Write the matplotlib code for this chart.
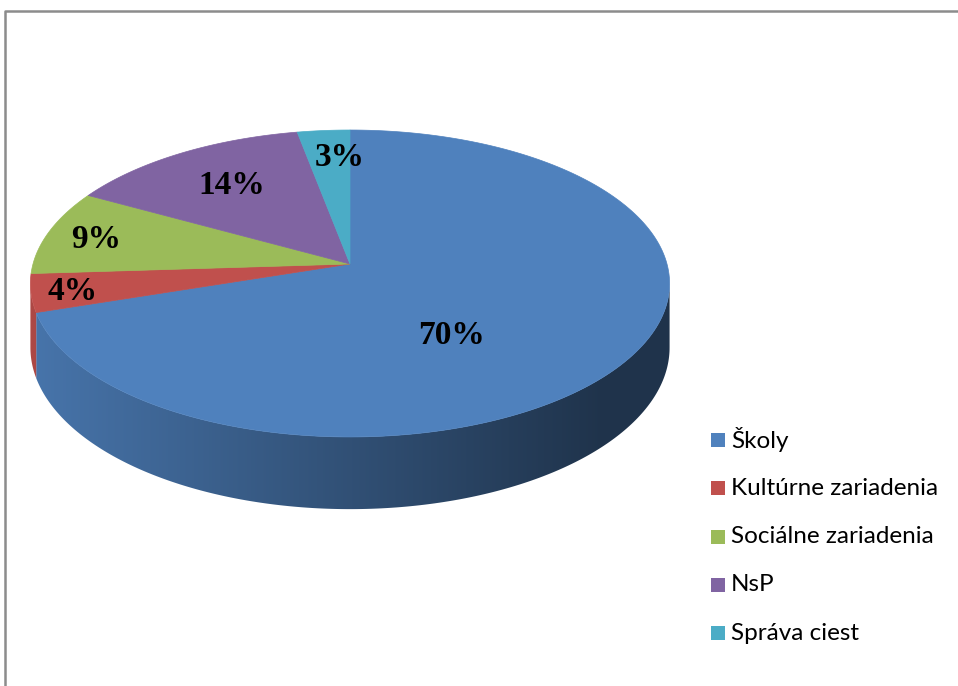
import matplotlib.pyplot as plt
import numpy as np
from matplotlib.colors import to_rgb
from matplotlib.patches import Polygon, Rectangle

# dados do grafico
categorias = ["Školy", "Kultúrne zariadenia", "Sociálne zariadenia", "NsP", "Správa ciest"]
valores = [70, 4, 9, 14, 3]
rotulos = ["70%", "4%", "9%", "14%", "3%"]
cores = ["#4f81bd", "#c0504d", "#9bbb59", "#8064a2", "#4bacc6"]

# geometria da "pizza 3D" (em pixels da figura)
CX, CY = 350, 264
A, B, K = 317, 151, 0.127
H = 63


def projetar(phi, fundo=False):
    """phi em graus, sentido horario a partir das 12h."""
    t = np.radians(phi)
    u, v = np.sin(t), np.cos(t)
    d = 1 + K * v
    x = CX + A * u / d
    y = CY - B * v / d + (H / d if fundo else 0)
    return x, y


def sombra(x):
    return np.clip(0.9 - 0.5 * (x - 35) / 565, 0.40, 0.9)


fig = plt.figure(figsize=(9.58, 6.86), dpi=100)
ax = fig.add_axes([0, 0, 1, 1])
ax.set_xlim(0, 958)
ax.set_ylim(686, 0)
ax.axis('off')

total = sum(valores)
limites = np.concatenate([[0], np.cumsum(valores) / total * 360])

# lateral visivel: entre as silhuetas cos(phi) = -K
phi_dir = np.degrees(np.arccos(-K))
phi_esq = 360 - phi_dir

xs_grad = np.arange(0, 700)
for i, cor in enumerate(cores):
    a0 = max(limites[i], phi_dir)
    a1 = min(limites[i + 1], phi_esq)
    if a1 <= a0:
        continue
    angs = np.linspace(a0, a1, 200)
    xt, yt = projetar(angs)
    xb, yb = projetar(angs[::-1], True)
    pts = np.column_stack([np.r_[xt, xb], np.r_[yt, yb]])
    lado = Polygon(pts, closed=True, facecolor='none', edgecolor='none')
    ax.add_patch(lado)
    base = np.array(to_rgb(cor))
    grad = sombra(xs_grad)[None, :, None] * base[None, None, :]
    img = ax.imshow(grad, extent=(0, 700, 600, 100), aspect='auto',
                    interpolation='bilinear', zorder=1)
    img.set_clip_path(lado)

# topo
for i, cor in enumerate(cores):
    angs = np.linspace(limites[i], limites[i + 1], 200)
    xs, ys = projetar(angs)
    pts = np.column_stack([np.r_[CX, xs], np.r_[CY, ys]])
    ax.add_patch(Polygon(pts, closed=True, facecolor=cor, edgecolor=cor,
                         linewidth=0.5, zorder=2))

ax.set_xlim(0, 958)
ax.set_ylim(686, 0)

# rotulos de porcentagem
pos_rotulos = [(452, 336), (73, 292), (96, 240), (232, 186), (340, 158)]
for txt, (x, y) in zip(rotulos, pos_rotulos):
    ax.text(x, y, txt, ha='center', va='center', fontsize=24,
            fontweight='bold', family='Liberation Serif', color='black',
            zorder=3)

# legenda
for i, (nome, cor) in enumerate(zip(categorias, cores)):
    y = 440 + i * 48.3
    ax.add_patch(Rectangle((711, y - 7), 14, 14, facecolor=cor, edgecolor='none'))
    ax.text(731, y, nome, ha='left', va='center', fontsize=17.5, family='Lato',
            color='black')

# moldura
ax.plot([5, 5, 958], [686, 11, 11], color='#8c8c8c', linewidth=1.8,
        solid_capstyle='butt', clip_on=False)

fig.savefig("out.png", dpi=100)
